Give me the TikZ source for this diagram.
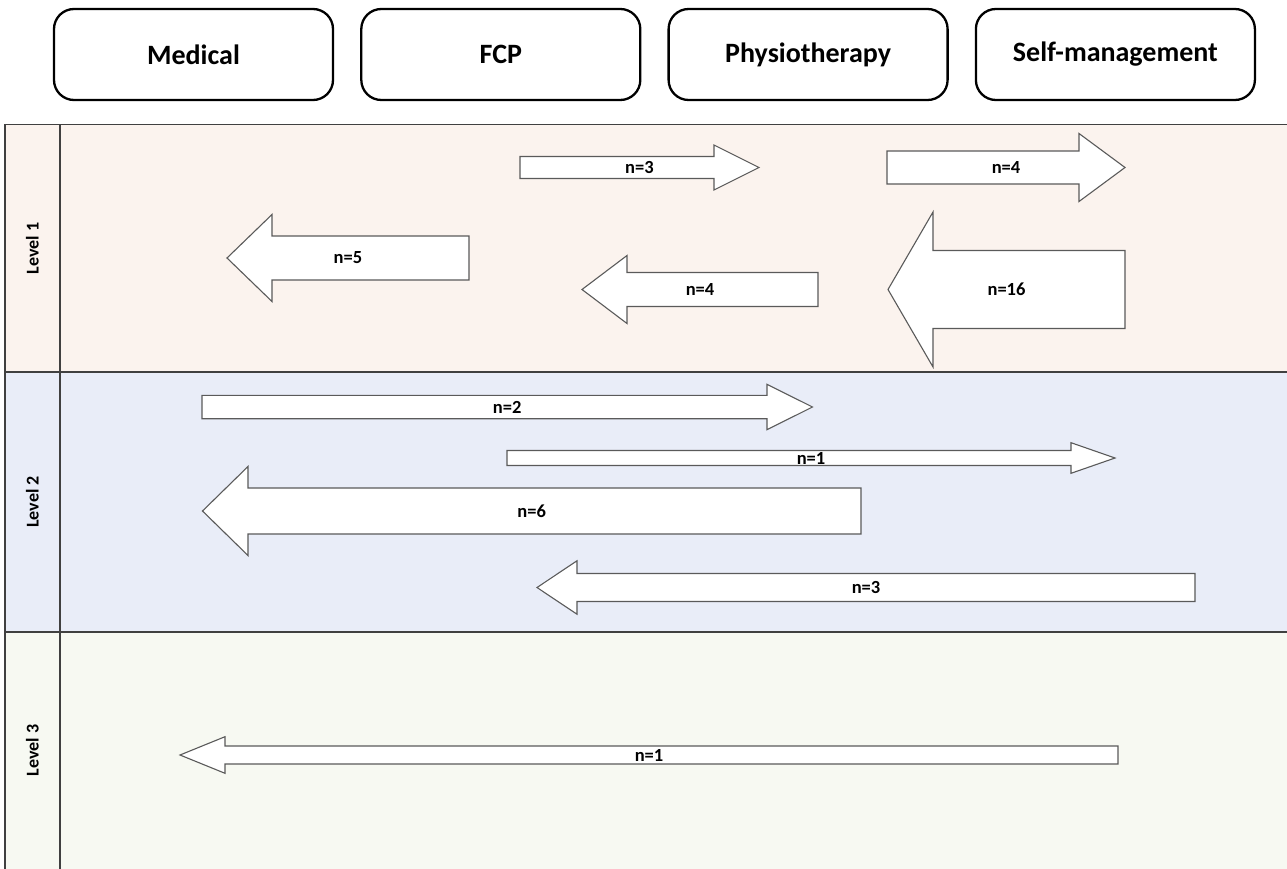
\documentclass[tikz,border=0pt]{standalone}
\usepackage{fontspec}
\setmainfont{Carlito}
\usepackage{tikz}
\usetikzlibrary{positioning}
\definecolor{bandone}{HTML}{FBF3EE}
\definecolor{bandtwo}{HTML}{E9EDF8}
\definecolor{bandthree}{HTML}{F7F9F2}
\definecolor{frame}{HTML}{404040}
\definecolor{arrowline}{HTML}{5A5A5A}
\tikzset{
  hdrbox/.style={draw,line width=2.3pt,rounded corners=20pt,minimum width=279pt,minimum height=91pt,
    font=\fontsize{28}{32}\selectfont\bfseries},
  levlabel/.style={rotate=90,font=\fontsize{18}{20}\selectfont\bfseries},
  nlabel/.style={font=\fontsize{18.5}{20}\selectfont\bfseries,inner sep=0pt},
  flowshape/.style={draw=arrowline,fill=white,line width=1.1pt,line join=miter}
}
\begin{document}
\begin{tikzpicture}[x=1pt,y=-1pt]
\useasboundingbox[fill=white] (0,0) rectangle (1287,869);
% service columns
\foreach \i/\lab in {0/Medical,1/FCP,2/Physiotherapy,3/Self-management}
  \node[hdrbox] (hdr\i) at ({193.5+307.3*\i},54.5) {\lab};
% level bands
\foreach \i/\top/\bot/\col in {1/124.5/372/bandone,2/372/632/bandtwo,3/632/869/bandthree}{
  \fill[\col] (5,\top) rectangle (1287,\bot);
  \node[levlabel] (lev\i) at (32.5,{(\top+\bot)/2}) {Level \i};
}
\draw[frame,line width=1.5pt] (1287,124.5) -- (5,124.5) -- (5,869);
\draw[frame,line width=1.5pt] (60,124.5) -- (60,869);
\draw[frame,line width=1.5pt] (5,372) -- (1287,372) (5,632) -- (1287,632);
% referrals: tail / head base / tip / y / shaft half / head half / label
\foreach \tl/\hb/\tp/\y/\sw/\hw/\lab [count=\i] in {
  520/714/759/167.5/11/22.5/n=3,
  887/1079/1125/167.5/16.5/34/n=4,
  469/272/227/258/22/43.5/n=5,
  818/627/582/289.5/17/34/n=4,
  1125/933/888/289.5/39/77.5/n=16,
  202/767/812.5/407/11.7/22.7/n=2,
  507/1071/1115/458/7.5/15.3/n=1,
  861/248/202.5/511/23/44.5/n=6,
  1195/577/537/587.5/14/26.7/n=3,
  1118/225/180/755/9/18.3/n=1}{
  \draw[flowshape] (\tl,\y-\sw) -- (\hb,\y-\sw) -- (\hb,\y-\hw) -- (\tp,\y)
    -- (\hb,\y+\hw) -- (\hb,\y+\sw) -- (\tl,\y+\sw) -- cycle;
  \node[nlabel] (ref\i) at ({(\tl+\tp)/2},\y) {\lab};
}
\end{tikzpicture}
\end{document}
